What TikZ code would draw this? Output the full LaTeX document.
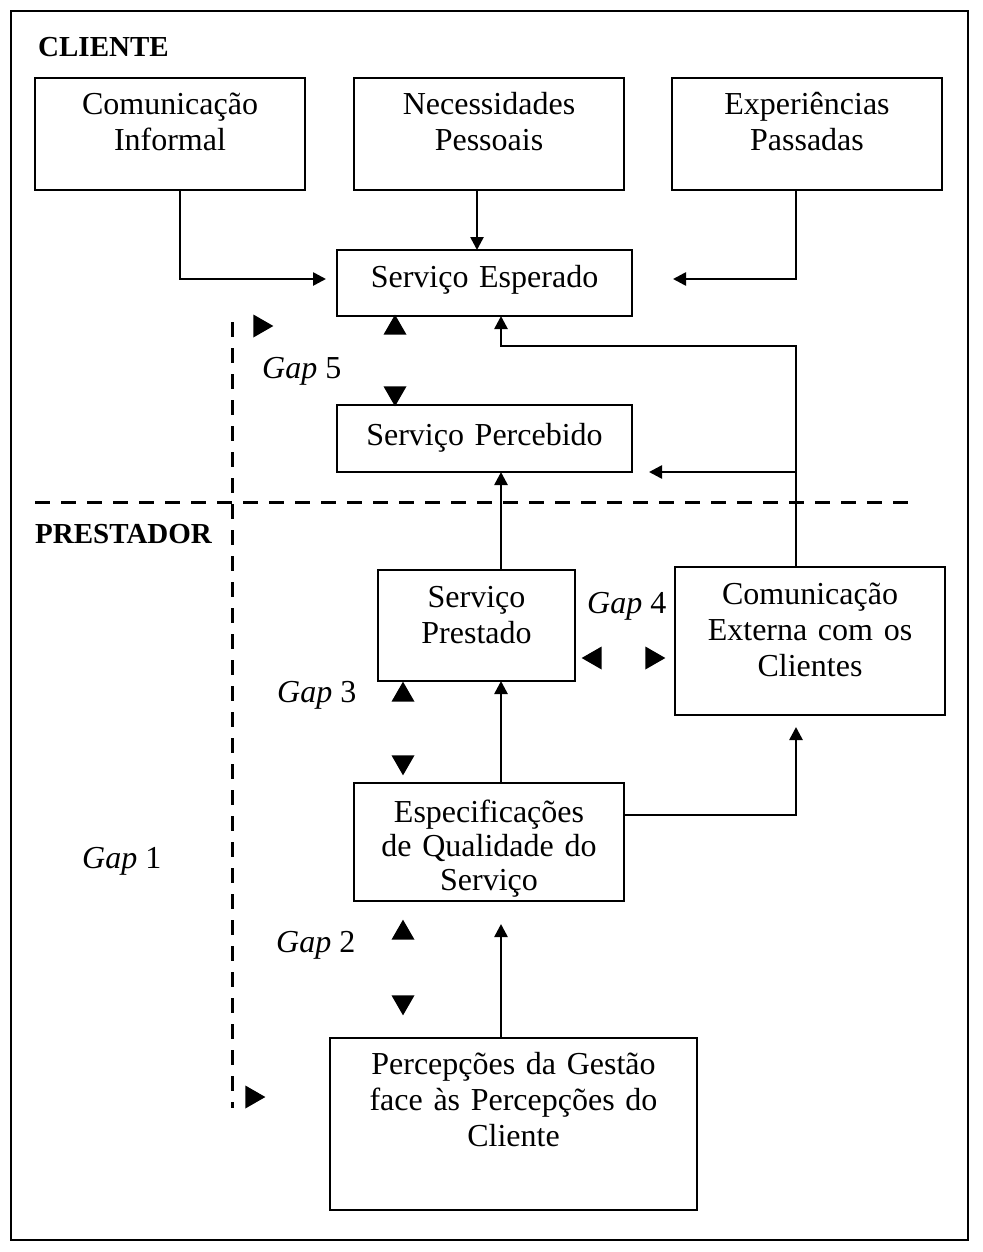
\documentclass[tikz,border=0pt]{standalone}
\usepackage{fontspec}
\setmainfont{Liberation Serif}
\usetikzlibrary{arrows.meta,shapes.geometric}

\begin{document}
\begin{tikzpicture}[x=1pt,y=-1pt,
box/.style = {rectangle, draw, line width=2.6pt, anchor=north west, align=center,
              inner sep=0pt, outer sep=0pt, font=\fontsize{32}{36}\selectfont},
conn/.style = {draw, line width=2.6pt, -{Triangle[length=13pt,width=13pt]}},
split/.style = {draw, line width=3pt, dash pattern=on 15pt off 11pt},
gaptip/.style = {isosceles triangle, fill=black, inner sep=0pt, minimum height=20pt,
                 minimum width=23pt, isosceles triangle stretches},
gaplabel/.style = {anchor=base west, inner sep=0pt, font=\fontsize{32}{36}\selectfont},
side/.style = {anchor=base west, inner sep=0pt, font=\bfseries\fontsize{29}{32}\selectfont}]

\useasboundingbox (0,0) rectangle (982,1252);
\draw[line width=2.6pt] (11,11) rectangle (968,1240);

% client side
\node[side] (cliente) at (38,57) {CLIENTE};
\node[box, text width=270pt, text height=37pt, text depth=75pt] (informal) at (35,78) {Comunicação\\Informal};
\node[box, text width=270pt, text height=37pt, text depth=75pt] (necessidades) at (354,78) {Necessidades\\Pessoais};
\node[box, text width=270pt, text height=37pt, text depth=75pt] (experiencias) at (672,78) {Experiências\\Passadas};
\node[box, text width=295pt, text height=37pt, text depth=29pt] (esperado) at (337,250) {Serviço Esperado};
\node[box, text width=295pt, text height=40pt, text depth=27pt] (percebido) at (337,405) {Serviço Percebido};

% provider side
\node[side] (prestador) at (35,543) {PRESTADOR};
\node[box, text width=197pt, text height=37pt, text depth=74pt] (prestado) at (378,570) {Serviço\\Prestado};
\node[box, text width=270pt, text height=37pt, text depth=111pt] (externa) at (675,567) {Comunicação\\Externa com os\\Clientes};
\node[box, text width=270pt, text height=39pt, text depth=79pt, font=\fontsize{32}{34}\selectfont] (especificacoes) at (354,783) {Especificações\\de Qualidade do\\Serviço};
\node[box, text width=367pt, text height=36pt, text depth=136pt] (percepcoes) at (330,1038) {Percepções da Gestão\\face às Percepções do\\Cliente};

\coordinate (spine) at (501,0);
\coordinate (rside) at (796,0);
\coordinate (needs) at ([xshift=-12pt]necessidades.south);
\coordinate (bend) at (501,346);

% connectors
\path[conn, shorten >=11pt] ([xshift=10pt]informal.south) |- ([yshift=4pt]esperado.west);
\path[conn] (needs) -- (needs |- esperado.north);
\path[conn, shorten >=41pt] (experiencias.south -| rside) |- ([yshift=4pt]esperado.east);
\path[conn] (externa.north -| rside) |- (bend) -- (esperado.south -| spine);
\path[conn, shorten >=17pt] (percebido.south east -| rside) -- (percebido.south east);
\path[conn] (prestado.north -| spine) -- (percebido.south -| spine);
\path[conn] (especificacoes.north -| spine) -- (prestado.south -| spine);
\path[conn, shorten >=12pt] ([yshift=27pt]especificacoes.east) -| (externa.south -| rside);
\path[conn, shorten >=23pt] (percepcoes.north -| spine) -- (especificacoes.south -| spine);

% dividing lines
\coordinate (hl) at (35,502);
\coordinate (hr) at (910,502);
\coordinate (vt) at (232,322);
\coordinate (vb) at (232,1108);
\path[split] (hl) -- (hr);
\path[split] (vt) -- (vb);

% gaps
\node[gaptip, shape border rotate=90] (g5up) at (395,328) {};
\node[gaptip, shape border rotate=270] (g5down) at (395,393) {};
\node[gaptip] (g1top) at (260,326) {};
\node[gaptip] (g1bot) at (252,1097) {};
\node[gaptip, shape border rotate=180] (g4left) at (595,658) {};
\node[gaptip] (g4right) at (652,658) {};
\node[gaptip, shape border rotate=90] (g3up) at (403,695) {};
\node[gaptip, shape border rotate=270] (g3down) at (403,762) {};
\node[gaptip, shape border rotate=90] (g2up) at (403,933) {};
\node[gaptip, shape border rotate=270] (g2down) at (403,1002) {};

\node[gaplabel] (gap5) at (262,378) {\textit{Gap} 5};
\node[gaplabel] (gap4) at (587,613) {\textit{Gap} 4};
\node[gaplabel] (gap3) at (277,702) {\textit{Gap} 3};
\node[gaplabel] (gap2) at (276,952) {\textit{Gap} 2};
\node[gaplabel] (gap1) at (82,868) {\textit{Gap} 1};
\end{tikzpicture}
\end{document}
